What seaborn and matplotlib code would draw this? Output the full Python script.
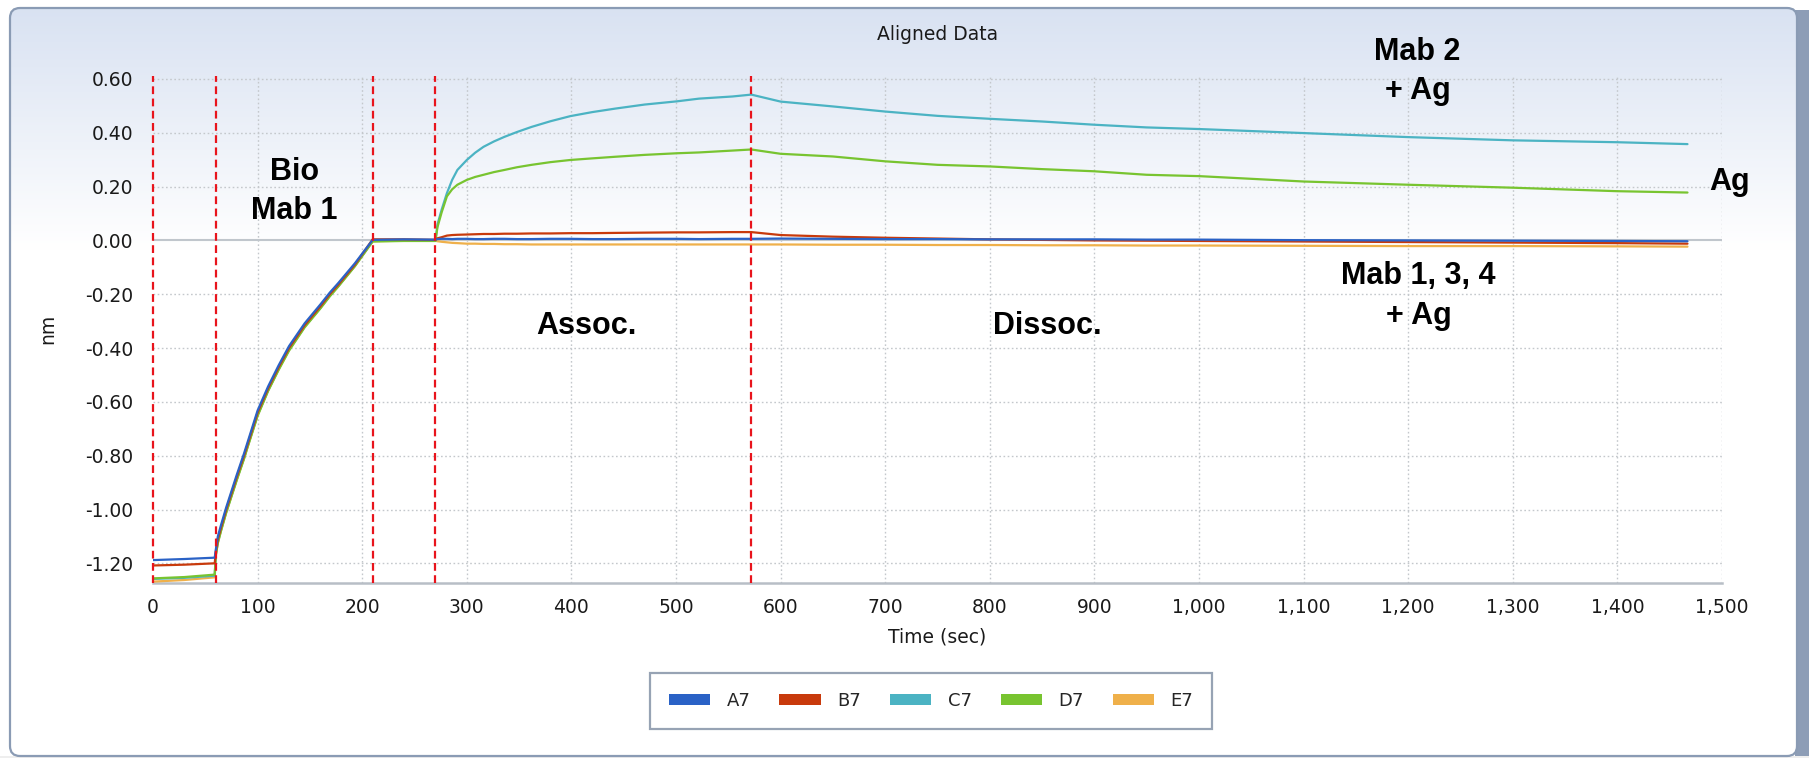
import numpy as np
import pandas as pd
import matplotlib
matplotlib.use("Agg")
import matplotlib.pyplot as plt
import seaborn as sns
from matplotlib.patches import FancyBboxPatch, Patch, Rectangle
from matplotlib.ticker import FixedLocator, MultipleLocator, FixedFormatter

# ---------------- data ----------------
time_sec = [0, 30, 59, 60, 62, 65, 70, 80, 87, 90, 100, 110, 120, 130, 145, 160, 169, 177, 193, 210,
            240, 270, 272, 276, 281, 286, 291, 300, 308, 316, 326, 336, 348, 362, 380, 399, 420, 442,
            470, 501, 522, 554, 572,
            600, 650, 700, 750, 800, 850, 900, 950, 1000, 1100, 1200, 1300, 1400, 1467]

a7 = [-1.188, -1.184, -1.179, -1.150, -1.100, -1.058, -0.992, -0.872, -0.792, -0.755, -0.632, -0.543,
      -0.465, -0.393, -0.308, -0.238, -0.194, -0.159, -0.085, 0.002,
      0.004, 0.003, 0.005, 0.006, 0.006, 0.005, 0.006, 0.006, 0.005, 0.005, 0.006, 0.006, 0.005,
      0.005, 0.006, 0.006, 0.005, 0.005, 0.006, 0.006, 0.005, 0.006, 0.006,
      0.007, 0.006, 0.005, 0.005, 0.004, 0.004, 0.004, 0.003, 0.003, 0.001, 0.000, -0.001, -0.002, -0.003]

b7 = [-1.208, -1.205, -1.200, -1.160, -1.112, -1.068, -1.000, -0.880, -0.800, -0.763, -0.640, -0.550,
      -0.472, -0.400, -0.315, -0.245, -0.200, -0.165, -0.090, 0.004,
      0.004, 0.002, 0.008, 0.012, 0.018, 0.020, 0.021, 0.022, 0.023, 0.024, 0.024, 0.025, 0.025,
      0.026, 0.026, 0.027, 0.027, 0.028, 0.029, 0.030, 0.030, 0.031, 0.031,
      0.020, 0.014, 0.010, 0.007, 0.004, 0.002, 0.000, -0.001, -0.002, -0.004, -0.006, -0.008, -0.010, -0.012]

c7 = [-1.258, -1.254, -1.246, -1.168, -1.120, -1.076, -1.008, -0.888, -0.808, -0.770, -0.648, -0.557,
      -0.478, -0.406, -0.320, -0.250, -0.205, -0.170, -0.094, -0.002,
      0.000, -0.001, 0.060, 0.115, 0.176, 0.225, 0.262, 0.299, 0.326, 0.348, 0.368, 0.385, 0.403,
      0.422, 0.443, 0.462, 0.477, 0.490, 0.505, 0.517, 0.527, 0.535, 0.542,
      0.516, 0.498, 0.479, 0.463, 0.452, 0.442, 0.430, 0.420, 0.414, 0.399, 0.384, 0.372, 0.365, 0.358]

d7 = [-1.256, -1.251, -1.242, -1.172, -1.125, -1.080, -1.012, -0.892, -0.812, -0.774, -0.652, -0.560,
      -0.482, -0.410, -0.323, -0.253, -0.208, -0.172, -0.096, -0.004,
      -0.002, -0.002, 0.050, 0.105, 0.164, 0.190, 0.207, 0.225, 0.236, 0.244, 0.254, 0.262, 0.272,
      0.281, 0.291, 0.299, 0.305, 0.311, 0.318, 0.324, 0.327, 0.334, 0.338,
      0.322, 0.312, 0.294, 0.281, 0.275, 0.265, 0.257, 0.244, 0.239, 0.219, 0.207, 0.196, 0.183, 0.178]

e7 = [-1.268, -1.262, -1.252, -1.170, -1.122, -1.078, -1.010, -0.890, -0.810, -0.772, -0.650, -0.558,
      -0.480, -0.408, -0.321, -0.251, -0.206, -0.171, -0.095, -0.003,
      -0.001, -0.001, -0.003, -0.005, -0.007, -0.009, -0.010, -0.012, -0.012, -0.013, -0.013, -0.014,
      -0.014, -0.015, -0.015, -0.015, -0.015, -0.015, -0.015, -0.015, -0.015, -0.015, -0.015,
      -0.015, -0.016, -0.016, -0.017, -0.017, -0.018, -0.018, -0.019, -0.019, -0.020, -0.021, -0.021,
      -0.022, -0.023]

sensor_labels = ["A7", "B7", "C7", "D7", "E7"]
sensor_colors = ["#2a62c6", "#c83a0c", "#4bb3c3", "#78c430", "#efb04a"]
step_times = [0, 60, 210, 270, 572]

x_ticks = list(range(0, 1501, 100))
x_tick_labels = ["0", "100", "200", "300", "400", "500", "600", "700", "800", "900",
                 "1,000", "1,100", "1,200", "1,300", "1,400", "1,500"]
y_ticks = [-1.2, -1.0, -0.8, -0.6, -0.4, -0.2, 0.0, 0.2, 0.4, 0.6]
y_tick_labels = ["-1.20", "-1.00", "-0.80", "-0.60", "-0.40", "-0.20", "0.00", "0.20", "0.40", "0.60"]

title_text = "Aligned Data"
x_label = "Time (sec)"
y_label = "nm"
annotations = [
    ("Bio", 135, 0.255),
    ("Mab 1", 135, 0.11),
    ("Assoc.", 414, -0.317),
    ("Dissoc.", 855, -0.317),
    ("Mab 2", 1209, 0.70),
    ("+ Ag", 1209, 0.555),
    ("Ag", 1507, 0.217),
    ("Mab 1, 3, 4", 1210, -0.134),
    ("+ Ag", 1210, -0.28),
]

# ---------------- build long-form table ----------------
series = {"A7": a7, "B7": b7, "C7": c7, "D7": d7, "E7": e7}
frames = [pd.DataFrame({"Time": time_sec, "Value": vals, "Sensor": name}) for name, vals in series.items()]
df = pd.concat(frames, ignore_index=True)
palette = dict(zip(sensor_labels, sensor_colors))

# ---------------- figure ----------------
W, H = 1809, 758
sns.set_style("white")
plt.rcParams["font.family"] = ["DejaVu Sans"]
fig = plt.figure(figsize=(W / 100, H / 100), dpi=100)
fig.patch.set_facecolor("white")

# background panel with gradient
bg = fig.add_axes([0, 0, 1, 1], zorder=-10)
bg.set_xlim(0, W)
bg.set_ylim(H, 0)
bg.axis("off")
bg.add_patch(Rectangle((0, 756), W, 3, facecolor="#eeeeee", edgecolor="none"))
bg.add_patch(Rectangle((1795, 10), 14, 746, facecolor="#8d9db6", edgecolor="none"))
panel = FancyBboxPatch((10, 8), 1787, 748, boxstyle="round,pad=0,rounding_size=10",
                       facecolor="white", edgecolor="none", zorder=1)
bg.add_patch(panel)
grad = np.linspace(0, 1, 256)[:, None]
top = np.array([0.850, 0.886, 0.948])
rgb = top[None, None, :] * (1 - grad[..., None]) + np.ones(3)[None, None, :] * grad[..., None]
rgb = np.repeat(rgb, 2, axis=1)
im = bg.imshow(rgb, extent=(10, 1797, 250, 8), aspect="auto", interpolation="bilinear", zorder=2)
im.set_clip_path(panel)
bg.set_xlim(0, W)
bg.set_ylim(H, 0)
bg.add_patch(FancyBboxPatch((10, 8), 1787, 748, boxstyle="round,pad=0,rounding_size=10",
                            facecolor="none", edgecolor="#8a9bb4", linewidth=1.6, zorder=3))

# main axes
ax_left, ax_right = 153, 1722
ax_top, ax_bottom = 76.3, 582.7
ax = fig.add_axes([ax_left / W, 1 - ax_bottom / H, (ax_right - ax_left) / W, (ax_bottom - ax_top) / H])
ax.set_facecolor("none")

sns.lineplot(data=df, x="Time", y="Value", hue="Sensor", hue_order=["E7", "C7", "D7", "B7", "A7"],
             palette=palette, linewidth=1.6, legend=False, ax=ax, zorder=3, estimator=None, sort=False)

ax.set_xlim(0, 1500)
ax.set_ylim(-1.272, 0.61)

# grid
for xt in x_ticks[1:]:
    ax.axvline(xt, color="#c4c8cc", linestyle=(0, (1.2, 1.8)), linewidth=1.0, zorder=1)
for yt in y_ticks:
    if abs(yt) > 1e-9:
        ax.axhline(yt, color="#c4c8cc", linestyle=(0, (1.2, 1.8)), linewidth=1.0, zorder=1)
ax.axhline(0, color="#c0c6cc", linewidth=1.5, zorder=1)

# step boundaries
for st in step_times:
    ax.axvline(st, color="#e8141c", linestyle=(0, (3.5, 2)), linewidth=1.6, zorder=4, clip_on=False)

# spines
for s in ["top", "right", "left"]:
    ax.spines[s].set_visible(False)
ax.spines["bottom"].set_color("#b8bec6")
ax.spines["bottom"].set_linewidth(1.8)

ax.xaxis.set_major_locator(FixedLocator(x_ticks))
ax.xaxis.set_major_formatter(FixedFormatter(x_tick_labels))
ax.xaxis.set_minor_locator(MultipleLocator(20))
ax.yaxis.set_major_locator(FixedLocator(y_ticks))
ax.yaxis.set_major_formatter(FixedFormatter(y_tick_labels))
ax.yaxis.set_minor_locator(MultipleLocator(0.1))

ax.tick_params(axis="x", which="major", length=6, width=1, color="#a9b0b8", pad=5,
               labelsize=13.5, labelcolor="#1a1a1a")
ax.tick_params(axis="x", which="minor", length=4, width=1, color="#a9b0b8")
ax.tick_params(axis="y", which="major", length=4, width=1, color="#a9b0b8", pad=10,
               labelsize=13.5, labelcolor="#1a1a1a")
ax.tick_params(axis="y", which="minor", length=3, width=1, color="#a9b0b8")
ax.set_xlabel("")
ax.set_ylabel("")

# titles / labels
fig.text(938 / W, 1 - 35 / H, title_text, ha="center", va="center", fontsize=13.5, color="#1a1a1a")
fig.text(937.5 / W, 1 - 637 / H, x_label, ha="center", va="center", fontsize=13.5, color="#1a1a1a")
fig.text(48 / W, 1 - 329 / H, y_label, ha="center", va="center", rotation=90, fontsize=13.5,
         color="#1a1a1a")

# annotations
for txt, tx, ty in annotations:
    ax.text(tx, ty, txt, ha="center", va="center", fontsize=22, fontweight="bold",
            family=["Liberation Sans", "DejaVu Sans"], color="black", clip_on=False, zorder=6)

# legend
handles = [Patch(facecolor=c, edgecolor="none", label=l) for l, c in zip(sensor_labels, sensor_colors)]
leg = fig.legend(handles=handles, loc="center", bbox_to_anchor=(931 / W, 1 - 701 / H), ncol=5,
                 frameon=True, fancybox=False, shadow=False, fontsize=13,
                 handlelength=2.3, handleheight=0.55, handletextpad=0.9, columnspacing=1.6,
                 borderpad=1.05)
leg.get_frame().set_edgecolor("#7d8ca2")
leg.get_frame().set_linewidth(1.6)
leg.get_frame().set_facecolor("white")

fig.savefig("out.png", dpi=100, facecolor="white")
